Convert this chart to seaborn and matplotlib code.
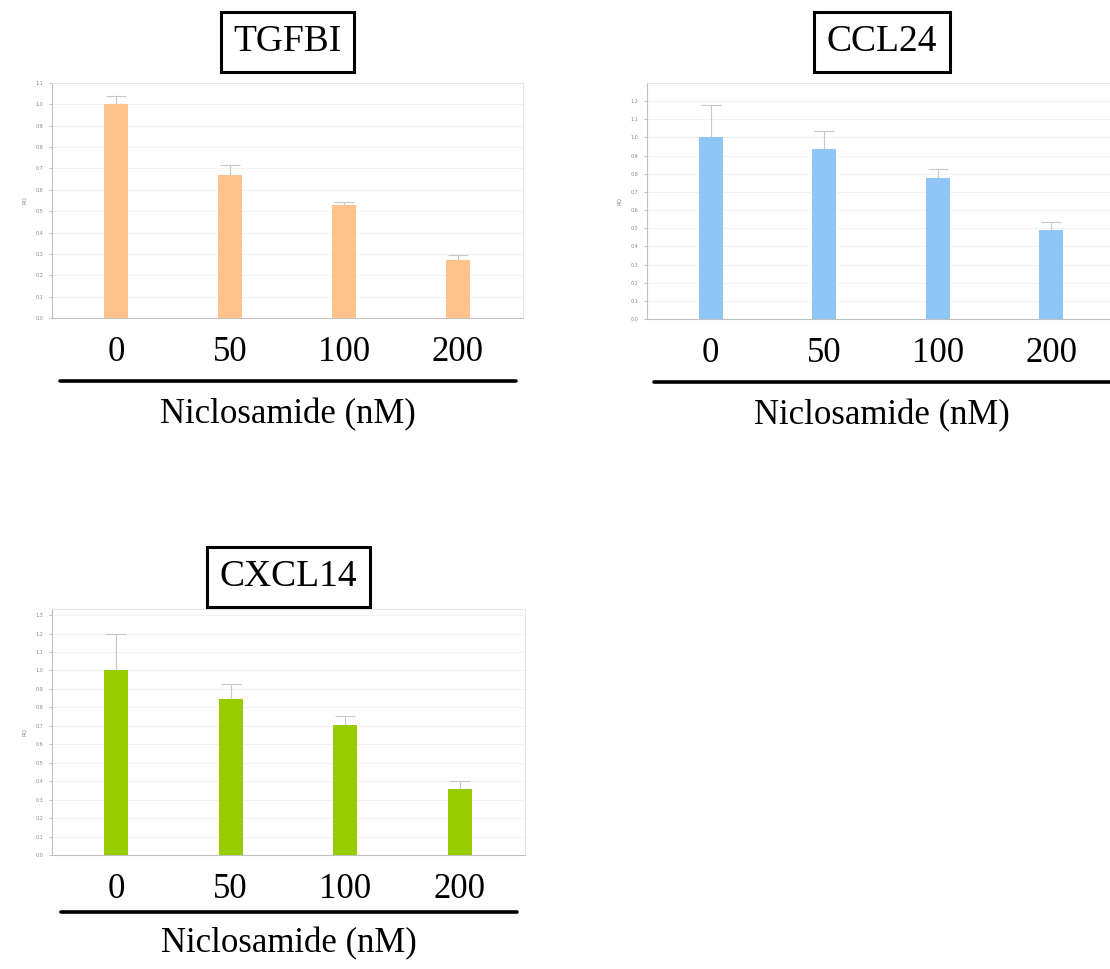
import numpy as np
import matplotlib.pyplot as plt
import seaborn as sns
from matplotlib.lines import Line2D

# doses on the x axis
doses = ["0", "50", "100", "200"]

tgfbi_rq = [1.00, 0.67, 0.53, 0.27]
tgfbi_err = [0.04, 0.045, 0.015, 0.025]
ccl24_rq = [1.00, 0.935, 0.775, 0.49]
ccl24_err = [0.18, 0.10, 0.05, 0.045]
cxcl14_rq = [1.00, 0.845, 0.705, 0.36]
cxcl14_err = [0.20, 0.08, 0.05, 0.04]

sns.set_theme(style="white")
plt.rcParams["font.family"] = ["DejaVu Sans"]
serif = ["Liberation Serif", "DejaVu Serif"]

W, H = 1110, 969
fig = plt.figure(figsize=(W / 100, H / 100), dpi=100)


def fx(px):
    return px / W


def fy(py):
    return 1 - py / H


def panel(name, rq, err, color, left, top, right, bottom, ymax, ytop_tick,
          box_y, line_off, lab_off):
    ax = fig.add_axes([fx(left), fy(bottom), fx(right - left), (bottom - top) / H])
    sns.barplot(x=doses, y=rq, order=doses, color=color, saturation=1,
                width=0.21, errorbar=None, linewidth=0, ax=ax, zorder=3)
    ax.errorbar(range(len(doses)), rq, yerr=[np.zeros(len(rq)), err], fmt="none",
                ecolor="#c8c8c8", elinewidth=0.8, capsize=7, capthick=0.8, zorder=2)
    ax.set_xlim(-0.56, 3.57)
    ax.set_ylim(0, ymax)
    yt = np.round(np.arange(0, ytop_tick + 0.001, 0.1), 1)
    ax.set_yticks(yt)
    ax.set_yticklabels([f"{v:.1f}" for v in yt], fontsize=3.5, color="#888888")
    ax.tick_params(axis="y", left=True, length=2.5, width=0.5, color="#aaaaaa", pad=4)
    ax.grid(axis="y", color="#f0f0f0", lw=0.6, zorder=0)
    ax.set_axisbelow(True)
    for s in ["top", "right"]:
        ax.spines[s].set_color("#e6e6e6")
        ax.spines[s].set_linewidth(0.7)
    for s in ["left", "bottom"]:
        ax.spines[s].set_color("#c0c0c0")
        ax.spines[s].set_linewidth(0.8)
    ax.set_ylabel("RQ", fontsize=4, color="#888888", labelpad=6)
    ax.set_xticks(range(len(doses)))
    ax.set_xticklabels(doses, fontsize=25, family=serif, color="black")
    ax.tick_params(axis="x", length=0, pad=13)
    ax.set_xlabel("")

    cx = (left + right) / 2
    fig.text(fx(cx), fy(box_y), name, ha="center", va="center", fontsize=27,
             family=serif, color="black",
             bbox=dict(boxstyle="square,pad=0.34", fc="white", ec="black", lw=2.2))
    fig.add_artist(Line2D([fx(cx - 228), fx(cx + 228)], [fy(bottom + line_off)] * 2,
                          color="black", lw=2.6, transform=fig.transFigure))
    fig.text(fx(cx), fy(bottom + lab_off), "Niclosamide (nM)", ha="center",
             va="baseline", fontsize=25, family=serif, color="black")
    return ax


panel("TGFBI", tgfbi_rq, tgfbi_err, "#fec38c", 52, 83, 523, 318, 1.1, 1.1, 42, 63, 105)
panel("CCL24", ccl24_rq, ccl24_err, "#8fc6f6", 647, 83, 1116, 319, 1.3, 1.2, 42, 63, 105)
panel("CXCL14", cxcl14_rq, cxcl14_err, "#99cc00", 52, 609, 525, 855, 1.333, 1.3, 577, 57, 97)

fig.savefig("out.png", dpi=100)
